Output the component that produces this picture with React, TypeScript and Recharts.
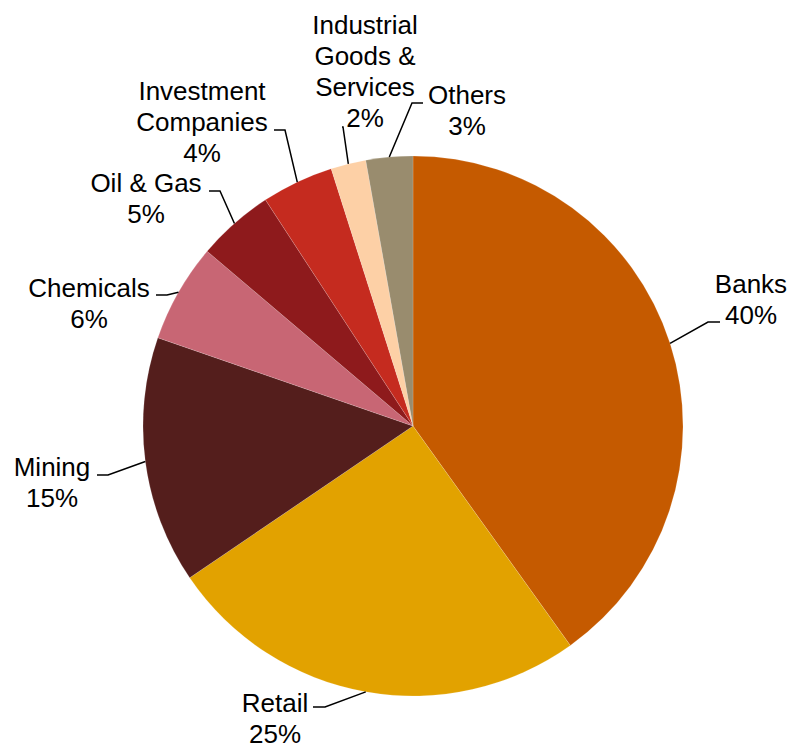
import { PieChart, Pie, Cell } from "recharts"

// sector shares, clockwise from 12 o'clock
const sectors = [
  "Banks",
  "Retail",
  "Mining",
  "Chemicals",
  "Oil & Gas",
  "Investment\nCompanies",
  "Industrial\nGoods &\nServices",
  "Others",
]
const shares = [40.1, 25.4, 14.8, 5.9, 4.6, 4.3, 2.1, 2.8]
const colors = ["#C55A00", "#E2A200", "#541E1C", "#C86674", "#8E1A1C", "#C52B1F", "#FDD0A6", "#998C6E"]

// where each Excel-style label sits: text centre, first line y, leader elbow and end
const labelLayout = [
  { tx: 751, ty: 284, ex: 708, ey: 322, hx: 720 },
  { tx: 275, ty: 703, ex: 325, ey: 707, hx: 313 },
  { tx: 52, ty: 467, ex: 108, ey: 475, hx: 97 },
  { tx: 89, ty: 288, ex: 167, ey: 295, hx: 156 },
  { tx: 146, ty: 183, ex: 220, ey: 191, hx: 209 },
  { tx: 202, ty: 91, ex: 285, ey: 130, hx: 274 },
  { tx: 365, ty: 25, ex: 343, ey: 127, hx: 342 },
  { tx: 467, ty: 95, ex: 412, ey: 103, hx: 423 },
]

const data = sectors.map((name, i) => ({ name, value: shares[i] }))

const RADIAN = Math.PI / 180
const LINE_H = 31

const renderLabel = (props: any) => {
  const { cx, cy, midAngle, outerRadius, index, percent } = props
  const layout = labelLayout[index]
  // leader line starts on the rim at the slice's mid angle
  const sx = cx + outerRadius * Math.cos(-midAngle * RADIAN)
  const sy = cy + outerRadius * Math.sin(-midAngle * RADIAN)
  const lines = [...sectors[index].split("\n"), `${Math.round(percent * 100)}%`]
  return (
    <g key={`label-${index}`}>
      <polyline
        points={`${sx},${sy} ${layout.ex},${layout.ey} ${layout.hx},${layout.ey}`}
        fill="none"
        stroke="#000"
        strokeWidth={1.5}
      />
      {lines.map((t, j) => (
        <text
          key={j}
          x={layout.tx}
          y={layout.ty + j * LINE_H}
          textAnchor="middle"
          dominantBaseline="central"
          fill="#000"
          fontSize={26}
          fontFamily="'Liberation Sans', Arial, sans-serif"
        >
          {t}
        </text>
      ))}
    </g>
  )
}

export default function App() {
  return (
    <div style={{ position: "absolute", left: 0, top: 0, width: 791, height: 744, background: "#fff" }}>
      <PieChart width={791} height={744} margin={{ top: 0, right: 0, bottom: 0, left: 0 }}>
        <Pie
          data={data}
          dataKey="value"
          nameKey="name"
          cx={413}
          cy={426}
          outerRadius={270}
          startAngle={90}
          endAngle={-270}
          stroke="#ffffff"
          strokeWidth={0.3}
          strokeOpacity={0.5}
          label={renderLabel}
          labelLine={false}
          isAnimationActive={false}
        >
          {data.map((entry, index) => (
            <Cell key={`cell-${index}`} fill={colors[index]} />
          ))}
        </Pie>
      </PieChart>
    </div>
  )
}
